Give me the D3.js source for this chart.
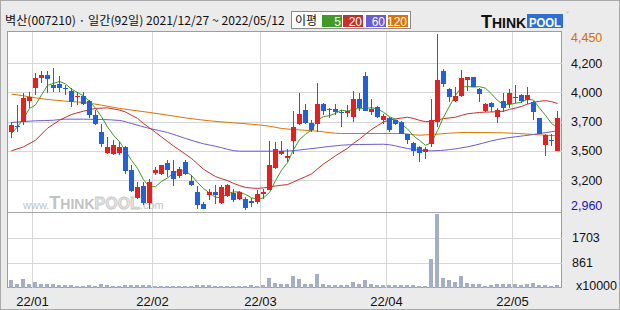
<!DOCTYPE html>
<html>
<head>
<meta charset="utf-8">
<script src="https://cdn.jsdelivr.net/npm/d3@7"></script>
<style>
  html, body { margin: 0; padding: 0; background: #ebebeb; }
  svg { display: block; }
</style>
</head>
<body>
<script>
// 벽산(007210) 일봉 2021/12/27 ~ 2022/05/12 (92 trading days)
const opens  = [3614,3670,3699,3883,3988,4073,4101,4016,4025,3988,3965,3917,3923,3880,3761,3619,3441,3429,3438,3489,
                3293,3058,3157,3015,3271,3259,3356,3288,3242,3364,3203,3109,3004,3081,3109,3015,3072,3100,3047,3052,
                3032,3024,3089,3123,3313,3429,3401,3543,3684,3804,3696,3682,3855,3806,3812,3784,3781,3747,3897,4093,
                3789,3826,3724,3741,3716,3704,3602,3526,3492,3444,3514,3704,4135,3982,3880,3925,4059,4081,3982,3798,
                3866,3747,3880,3855,3911,3931,3889,3874,3733,3506,3554,3458];
const highs  = [3699,3846,3945,3959,4115,4135,4135,4164,4093,4016,3988,3959,3959,3889,3804,3690,3577,3548,3529,3500,
                3336,3194,3194,3217,3322,3340,3378,3378,3322,3378,3251,3157,3024,3137,3171,3166,3180,3137,3115,3066,
                3058,3129,3132,3540,3534,3543,3472,3795,3945,3852,3719,4030,3860,3823,3855,3804,3846,3968,3945,4130,
                3897,3838,3775,3747,3724,3710,3605,3534,3497,3492,3897,4450,4149,3994,4002,4144,4087,4087,3988,3860,
                3874,3818,3945,3982,4016,3937,4002,3880,3738,3599,3605,3798];
const lows   = [3568,3619,3676,3818,3931,4030,3945,3959,3959,3931,3832,3846,3846,3733,3676,3492,3435,3421,3426,3265,
                3109,3052,2996,2962,3251,3255,3237,3160,3228,3251,3157,2965,2965,3038,3010,3010,3066,3024,3040,2960,
                2981,3010,3052,3123,3307,3421,3364,3435,3676,3690,3619,3619,3761,3733,3761,3662,3747,3704,3795,3795,
                3761,3741,3682,3614,3676,3599,3520,3412,3364,3392,3492,3662,4002,3869,3869,3917,3965,4002,3874,3789,
                3789,3696,3789,3818,3860,3860,3855,3724,3599,3412,3500,3458];
const closes = [3676,3662,3903,3917,4079,4101,4067,3993,3993,3979,3874,3925,3855,3761,3682,3517,3489,3506,3489,3288,
                3115,3152,3015,3194,3294,3336,3299,3217,3307,3259,3166,2996,2967,3109,3081,3152,3166,3038,3109,2970,
                3018,3089,3109,3336,3472,3460,3412,3659,3767,3696,3631,3852,3795,3815,3784,3778,3798,3897,3818,3798,
                3812,3747,3753,3631,3682,3605,3548,3458,3441,3472,3718,4059,4025,3917,3923,4073,4081,4002,3937,3855,
                3832,3804,3823,3945,3903,3883,3931,3784,3605,3591,3543,3741];
// 거래량 (x10000)
const volumes = [266,150,300,130,200,130,130,130,100,100,100,70,70,100,70,130,100,70,70,100,
                 100,100,100,100,70,70,70,70,70,70,70,100,100,100,70,70,70,70,70,70,
                 100,70,100,330,180,130,130,400,300,130,130,468,130,100,100,100,100,200,130,266,
                 130,100,100,100,100,100,100,100,60,60,974,2490,333,266,200,401,165,130,130,60,
                 100,130,130,130,130,100,130,165,100,100,60,100];

// 이동평균 - 차트 앞부분(이전 데이터 필요 구간)은 그림에서 읽은 값
const ma5Lead  = [[0,3605],[1,3662],[2,3733],[3,3818]];
const ma20Lead = [[0,3458],[2,3492],[4,3548],[6,3650],[8,3718],[10,3767],[12,3795],[14,3818],[16,3823],[18,3804]];
const ma60     = [[0,3699],[4,3713],[7,3718],[9,3727],[12,3727],[15,3724],[18,3716],[20,3690],[23,3648],[26,3614],
                  [29,3563],[32,3518],[34,3497],[38,3455],[45,3455],[51,3483],[55,3506],[58,3512],[62,3514],[66,3478],
                  [68,3463],[70,3458],[76,3492],[81,3554],[87,3597],[91,3628]];
const ma120    = [[0,3940],[2,3925],[4,3908],[7,3889],[9,3880],[12,3869],[15,3846],[18,3818],[20,3804],[23,3784],
                  [26,3761],[29,3738],[33,3713],[37,3696],[40,3684],[43,3667],[45,3648],[48,3636],[51,3625],[55,3605],
                  [59,3605],[65,3605],[68,3591],[70,3597],[76,3614],[82,3611],[87,3597],[91,3585]];

const monthLabels = ['22/01','22/02','22/03','22/04','22/05'];
const monthStart  = [4, 24, 42, 63, 84];
const priceMax = 4450, priceMin = 2960;
const priceLabels = ['4,450','4,200','4,000','3,700','3,500','3,200','2,960'];
const volMax = 2554;
const volTicks = [1703, 861];
const maNames  = ['5','20','60','120'];
const maColors = ['#3f9a26','#c4302a','#6a5cd8','#dc7400'];

const W = 620, H = 310;
const plot = {left: 7.5, right: 561.5, top: 31.5, sep: 212.5, bottom: 287.5};

let svg = d3.select('body').append('svg').attr('width', W).attr('height', H);
svg.append('rect').attr('x', 0.5).attr('y', 0.5).attr('width', W - 1).attr('height', H - 1)
    .attr('fill', '#ebebeb').attr('stroke', '#a9a9a9');

let x = d3.scaleLinear().domain([0, closes.length - 1]).range([11, 557]);
let step = x(1) - x(0);
let y = d3.scaleLinear().domain([priceMin, priceMax]).range([209.5, 34]);
let yv = d3.scaleLinear().domain([0, volMax]).range([288, 212.5]);

// 플롯 영역
svg.append('rect').attr('x', plot.left).attr('y', plot.top)
    .attr('width', plot.right - plot.left).attr('height', plot.bottom - plot.top)
    .attr('fill', '#fff').attr('stroke', '#9d9d9d');

let grid = svg.append('g').attr('stroke', '#d6d6d6').attr('shape-rendering', 'crispEdges');
// 월 구분선
grid.selectAll('line.v').data(monthStart).enter().append('line')
    .attr('x1', d => Math.round(x(d) - step / 2) + 0.5).attr('x2', d => Math.round(x(d) - step / 2) + 0.5)
    .attr('y1', plot.top).attr('y2', plot.bottom);
// 가격 구간 가로선 (균등 간격)
let priceGrid = priceLabels.map((d, k) => priceMax - k * (priceMax - priceMin) / (priceLabels.length - 1));
grid.selectAll('line.h').data(priceGrid.slice(1, -1)).enter().append('line')
    .attr('x1', plot.left).attr('x2', plot.right)
    .attr('y1', d => Math.round(y(d)) + 0.5).attr('y2', d => Math.round(y(d)) + 0.5);
grid.selectAll('line.hv').data(volTicks).enter().append('line')
    .attr('x1', plot.left).attr('x2', plot.right)
    .attr('y1', d => Math.round(yv(d)) + 0.5).attr('y2', d => Math.round(yv(d)) + 0.5);
svg.append('line').attr('x1', plot.left).attr('x2', plot.right).attr('y1', plot.sep).attr('y2', plot.sep)
    .attr('stroke', '#a8a8a8');

// 워터마크
let wm = svg.append('text').attr('x', 23).attr('y', 209)
    .attr('font-family', 'Liberation Sans, Arial, sans-serif').attr('font-weight', 'bold').attr('fill', '#c2c2c2');
wm.append('tspan').attr('font-size', 11).attr('font-weight', 'normal').text('www.');
wm.append('tspan').attr('font-size', 18).text('T');
wm.append('tspan').attr('font-size', 14).text('HINK');
wm.append('tspan').attr('font-size', 16).attr('fill', '#e4e4e4').attr('stroke', '#c8c8c8').attr('stroke-width', 0.8).text('POOL');
wm.append('tspan').attr('font-size', 11).attr('font-weight', 'normal').text('.com');

// 거래량
svg.append('g').attr('shape-rendering', 'crispEdges').selectAll('rect').data(volumes).enter().append('rect')
    .attr('x', (d, i) => x(i) - 2).attr('width', 4)
    .attr('y', d => yv(d)).attr('height', d => yv(0) - yv(d))
    .attr('fill', '#a4aec6');

// 이동평균선
const maLine = d3.line().x(d => x(d[0]) + 0.5).y(d => y(d[1]));
let movingAvg = (n, lead) => {
    let pts = lead.slice();
    for (let i = n - 1; i < closes.length; i++) {
        if (i <= lead[lead.length - 1][0]) continue;
        pts.push([i, d3.mean(closes.slice(i - n + 1, i + 1))]);
    }
    return pts;
};
let maSeries = [movingAvg(5, ma5Lead), movingAvg(20, ma20Lead), ma60, ma120];
svg.append('g').attr('fill', 'none').attr('stroke-width', 1).selectAll('path')
    .data(maSeries.slice().reverse()).enter().append('path')
    .attr('d', d => maLine.curve(d.length < 40 ? d3.curveMonotoneX : d3.curveLinear)(d))
    .attr('stroke', (d, k) => maColors[maColors.length - 1 - k]);

// 캔들
let candles = svg.append('g').attr('shape-rendering', 'crispEdges').selectAll('g')
    .data(closes.map((c, i) => ({i: i, o: opens[i], h: highs[i], l: lows[i], c: c})))
    .enter().append('g')
    .attr('fill', d => d.c >= d.o ? '#f21b1b' : '#1f5fe2')
    .attr('stroke', 'none');
candles.append('rect')
    .attr('x', d => x(d.i)).attr('width', 1)
    .attr('y', d => y(d.h)).attr('height', d => Math.max(1, y(d.l) - y(d.h)));
candles.append('rect')
    .attr('x', d => x(d.i) - 2).attr('width', 5)
    .attr('y', d => y(Math.max(d.o, d.c)))
    .attr('height', d => Math.max(1, Math.abs(y(d.o) - y(d.c))));

// 오른쪽 축 라벨
const axisFont = 'Liberation Sans, Arial, sans-serif';
svg.append('g').selectAll('text').data(priceLabels).enter().append('text')
    .attr('x', 571)
    .attr('y', (d, k) => y(priceGrid[k]) + (k === 0 ? 4 : k === priceLabels.length - 1 ? -3.5 : 0))
    .attr('dy', '0.35em')
    .attr('font-family', axisFont).attr('font-size', 12.5)
    .attr('fill', (d, k) => k === 0 ? '#d46e00' : k === priceLabels.length - 1 ? '#1515c2' : '#111')
    .text(d => d);
svg.append('g').selectAll('text').data(volTicks).enter().append('text')
    .attr('x', 572).attr('y', d => yv(d)).attr('dy', '0.35em')
    .attr('font-family', axisFont).attr('font-size', 12.5).attr('fill', '#111')
    .text(d => d);
svg.append('text').attr('x', 576).attr('y', 286).attr('dy', '0.35em')
    .attr('font-family', axisFont).attr('font-size', 12.5).attr('fill', '#111').text('x10000');

// 아래 월 라벨
svg.append('g').selectAll('text').data(monthLabels).enter().append('text')
    .attr('x', (d, k) => Math.round(x(monthStart[k]) - step / 2) + 0.5).attr('y', 301).attr('dy', '0.35em')
    .attr('text-anchor', 'middle')
    .attr('font-family', axisFont).attr('font-size', 13).attr('fill', '#111')
    .text(d => d);

// 제목 - 글자 크기를 폭 282px 에 맞춤
let title = svg.append('text').attr('x', 5).attr('y', 25)
    .attr('font-family', 'Noto Sans CJK KR, sans-serif').attr('font-size', 13).attr('fill', '#111')
    .text('벽산(007210) · 일간(92일) 2021/12/27 ~ 2022/05/12');
let tLen = title.node().getComputedTextLength();
title.attr('font-size', Math.min(14, 13 * 280 / tLen));

// 이평 범례
let lg = svg.append('g');
lg.append('rect').attr('x', 291.5).attr('y', 11.5).attr('width', 119).attr('height', 17)
    .attr('fill', '#fff').attr('stroke', '#8c8c8c');
lg.append('text').attr('x', 295).attr('y', 24.5)
    .attr('font-family', 'Noto Sans CJK KR, sans-serif').attr('font-size', 12)
    .attr('fill', '#111').text('이평');
let boxX = [322, 343, 366, 388], boxW = [20, 20, 20, 20];
lg.selectAll('rect.ma').data(maNames).enter().append('rect')
    .attr('x', (d, k) => boxX[k]).attr('y', 15).attr('width', (d, k) => boxW[k]).attr('height', 12)
    .attr('fill', (d, k) => maColors[k]);
lg.selectAll('text.ma').data(maNames).enter().append('text')
    .attr('x', (d, k) => boxX[k] + boxW[k] - 1).attr('y', 25.5)
    .attr('text-anchor', 'end')
    .attr('font-family', axisFont).attr('font-size', 12).attr('fill', '#fff').text(d => d);

// THINKPOOL 로고
let logo = svg.append('g');
let tk = logo.append('text').attr('x', 481).attr('y', 28)
    .attr('font-family', 'Liberation Sans, Arial, sans-serif').attr('font-weight', 'bold').attr('fill', '#111');
tk.append('tspan').attr('font-size', 18).text('T');
tk.append('tspan').attr('font-size', 14).text('HINK');
logo.append('rect').attr('x', 527).attr('y', 14).attr('width', 36).attr('height', 14).attr('fill', '#2e6fd6');
logo.append('text').attr('x', 529).attr('y', 26.5)
    .attr('font-family', 'Liberation Sans, Arial, sans-serif').attr('font-weight', 'bold')
    .attr('font-size', 12).attr('textLength', 32).attr('lengthAdjust', 'spacingAndGlyphs')
    .attr('fill', '#fff').text('POOL');
logo.append('text').attr('x', 566).attr('y', 14).attr('font-size', 4).attr('fill', '#999').text('®');
</script>
</body>
</html>
